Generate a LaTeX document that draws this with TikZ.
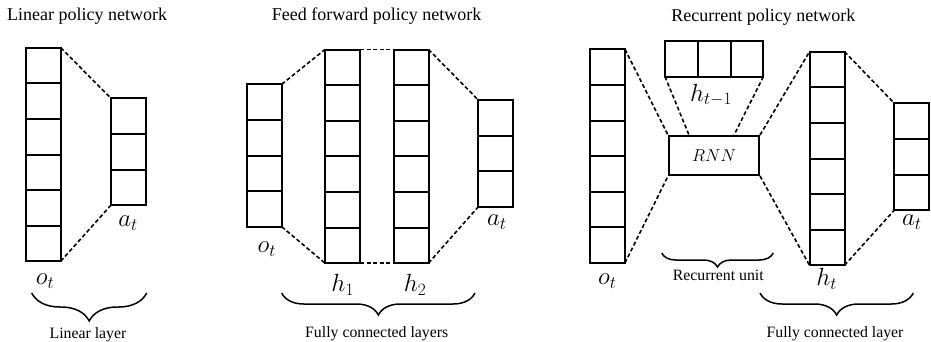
\documentclass[tikz,border=0pt]{standalone}
\usepackage{fontspec}
\setmainfont{Liberation Serif}
\usetikzlibrary{decorations.pathreplacing,calc}
\newcommand\vcolumn[4]{%
  \foreach \i in {1,...,#4}{\node[cell, anchor=north west] (#1-\i) at (#2, {#3+(\i-1)*35.6}) {};}}
\begin{document}
\begin{tikzpicture}[x=1pt,y=-1pt,
 cell/.style={draw, line width=2pt, minimum width=35pt, minimum height=35.6pt, inner sep=0pt, outer sep=0pt},
 hcell/.style={cell, minimum width=32.8pt},
 link/.style={line width=1.6pt, dash pattern=on 4pt off 2.5pt},
 ttltxt/.style={font=\fontsize{18}{21}\selectfont, anchor=base, inner sep=0pt},
 captxt/.style={font=\fontsize{15.8}{18}\selectfont, anchor=base, inner sep=0pt},
 labtxt/.style={font=\fontsize{23}{26}\selectfont, inner sep=0pt},
 brc/.style={decorate, decoration={brace, mirror, amplitude=#1}, line width=1.5pt},
]
\useasboundingbox (0,0) rectangle (931,341);

% ---------- Linear policy network ----------
\node[ttltxt, anchor=base west] (t1) at (7,20) {Linear policy network};
\vcolumn{lo}{25.7}{47.7}{6}
\vcolumn{la}{111}{98.3}{3}
\draw[link] (lo-1.north east) -- (la-1.north west);
\draw[link] (lo-6.south east) -- (la-3.south west);
\node[labtxt] (lot) at (45,281) {$o_t$};
\node[labtxt] (lat) at (128,223) {$a_t$};
\draw[brc=28pt] (31.7,293) -- (146.7,293);
\node[captxt] (c1) at (88,338) {Linear layer};

% ---------- Feed forward policy network ----------
\node[ttltxt] (t2) at (376.7,20) {Feed forward policy network};
\vcolumn{mo}{246.7}{84.3}{4}
\vcolumn{mha}{325}{49.5}{6}
\vcolumn{mhb}{393.5}{49.5}{6}
\vcolumn{ma}{478.3}{100}{3}
\draw[link] (mo-1.north east) -- (mha-1.north west);
\draw[link] (mo-4.south east) -- (mha-6.south west);
\draw[link] (mha-1.north east) -- (mhb-1.north west);
\draw[link] (mha-6.south east) -- (mhb-6.south west);
\draw[link] (mhb-1.north east) -- (ma-1.north west);
\draw[link] (mhb-6.south east) -- (ma-3.south west);
\node[labtxt] (mot) at (266.7,249) {$o_t$};
\node[labtxt] (mh1) at (342.7,285) {$h_1$};
\node[labtxt] (mh2) at (415,285) {$h_2$};
\node[labtxt] (mat) at (496.7,222) {$a_t$};
\draw[brc=22pt] (281.7,293) -- (475,293);
\node[captxt] (c2) at (376.7,337) {Fully connected layers};

% ---------- Recurrent policy network ----------
\node[ttltxt] (t3) at (763.3,21) {Recurrent policy network};
\vcolumn{ro}{590}{49.3}{6}
\foreach \i in {1,2,3}{\node[hcell, anchor=north west] (rp-\i) at ({665+(\i-1)*32.8}, 41) {};}
\node[draw, line width=2pt, minimum width=90pt, minimum height=39pt, inner sep=0pt,
      font=\fontsize{18}{21}\selectfont] (rnn) at (714,155.5) {$RNN$};
\vcolumn{rh}{809.5}{51.7}{6}
\vcolumn{ra}{894.3}{103.3}{3}
\draw[link] (ro-1.north east) -- (rnn.north west);
\draw[link] (ro-6.south east) -- (rnn.south west);
\draw[link] (rp-1.south west) -- ($(rnn.north west)+(21,0)$);
\draw[link] (rp-3.south east) -- ($(rnn.north west)+(66,0)$);
\draw[link] (rnn.north east) -- (rh-1.north west);
\draw[link] (rnn.south east) -- (rh-6.south west);
\draw[link] (rh-1.north east) -- (ra-1.north west);
\draw[link] (rh-6.south east) -- (ra-3.south west);
\node[labtxt] (rot) at (607.3,281) {$o_t$};
\node[labtxt] (rhp) at (711,95) {$h_{t-1}$};
\node[labtxt] (rht) at (826.7,279) {$h_t$};
\node[labtxt] (rat) at (911.7,222) {$a_t$};
\draw[brc=14pt] (661.7,253) -- (773.3,253);
\node[captxt] (c3) at (718.3,280) {Recurrent unit};
\draw[brc=22pt] (760,293) -- (913.3,293);
\node[captxt] (c4) at (835,337) {Fully connected layer};
\end{tikzpicture}
\end{document}
